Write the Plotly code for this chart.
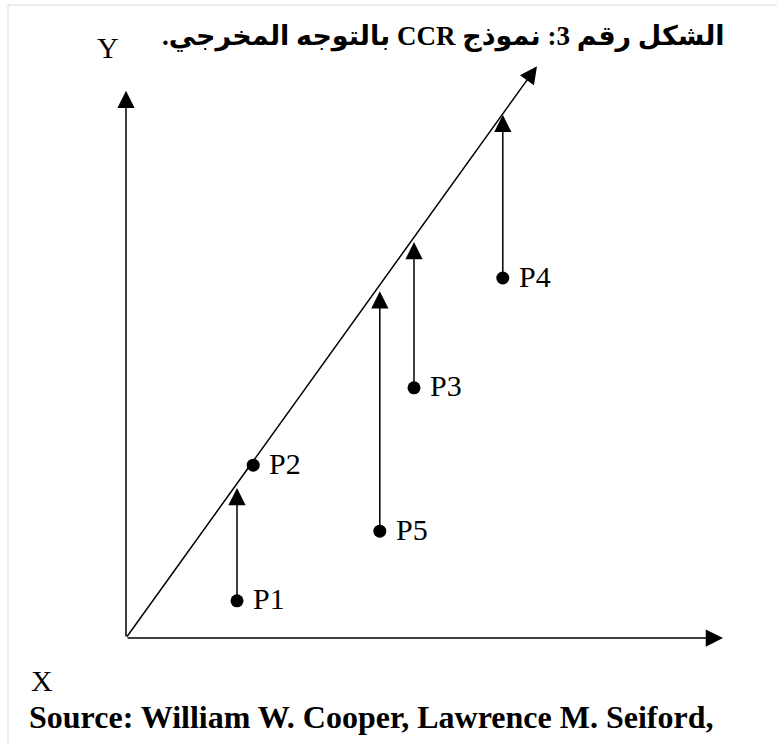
"""CCR output-oriented model sketch: DMUs projected vertically onto the frontier."""

import plotly.graph_objects as go

# ── Data (chart units, origin at the axes corner) ────────────────
dmu_labels = ["P1", "P2", "P3", "P4", "P5"]
dmu_x = [1.85, 2.12, 4.80, 6.28, 4.23]
dmu_y = [0.62, 2.88, 4.17, 6.00, 1.78]
# where each vertical projection arrow ends (P2 already on the frontier)
proj_y = [2.50, None, 6.60, 8.72, 5.78]

frontier_x = [0.0, 6.85]
frontier_y = [0.0, 9.53]
x_axis_end = 9.95
y_axis_end = 9.12

title_text = "الشكل رقم 3: نموذج CCR بالتوجه المخرجي."
source_text = "Source: William W. Cooper, Lawrence M. Seiford,"

# ── Page geometry (pixels) ───────────────────────────────────────
W, H = 777, 745
ORIGIN_PX = (126, 638)
PX_PER_UNIT = 60.0

SERIF = "Liberation Serif, Times New Roman, serif"
ARABIC = "Liberation Serif, DejaVu Sans, sans-serif"


def px(xp):
    return xp / W


def py(yp):
    return 1 - yp / H


def arrow(x, y, ax, ay, width=1.5):
    return dict(
        x=x, y=y, ax=ax, ay=ay, xref="x", yref="y", axref="x", ayref="y",
        text="", showarrow=True, arrowhead=2, arrowsize=2.3, arrowwidth=width,
        arrowcolor="black", standoff=0, startstandoff=0,
    )


fig = go.Figure()

fig.add_trace(go.Scatter(
    x=dmu_x, y=dmu_y, mode="markers",
    marker=dict(size=13, color="black"),
    hoverinfo="skip", showlegend=False,
))

annotations = [
    arrow(x_axis_end, 0, 0, 0),
    arrow(0, y_axis_end, 0, 0),
    arrow(frontier_x[1], frontier_y[1], frontier_x[0], frontier_y[0]),
]
for xv, yv, ty in zip(dmu_x, dmu_y, proj_y):
    if ty is None:
        continue
    annotations.append(arrow(xv, ty, xv, yv))

# point labels sit just right of each dot
for lab, xv, yv in zip(dmu_labels, dmu_x, dmu_y):
    annotations.append(dict(
        text=lab, x=xv, y=yv, xref="x", yref="y", showarrow=False,
        xanchor="left", yanchor="middle", xshift=14, yshift=2,
        font=dict(family=SERIF, size=30, color="black"),
    ))

text_style = dict(xref="paper", yref="paper", showarrow=False)
annotations += [
    dict(text="\u202b" + title_text + "\u202c", x=px(443), y=py(37),
         xanchor="center", yanchor="middle",
         font=dict(family=ARABIC, size=27, color="black", weight="bold"), **text_style),
    dict(text="Y", x=px(108), y=py(48), xanchor="center", yanchor="middle",
         font=dict(family=SERIF, size=30, color="black"), **text_style),
    dict(text="X", x=px(29), y=py(680), xanchor="left", yanchor="middle",
         font=dict(family=SERIF, size=30, color="black"), **text_style),
    dict(text=source_text, x=px(27), y=py(717), xanchor="left", yanchor="middle",
         font=dict(family=SERIF, size=32, color="black", weight="bold"), **text_style),
]

# faint frame left over from the scanned page
frame = [
    dict(type="line", xref="paper", yref="paper", x0=px(8), x1=1, y0=py(5), y1=py(5),
         line=dict(color="#ececec", width=2)),
    dict(type="line", xref="paper", yref="paper", x0=px(8), x1=px(8), y0=py(5), y1=0,
         line=dict(color="#ececec", width=2)),
]

ox, oy = ORIGIN_PX
fig.update_layout(
    width=W, height=H,
    margin=dict(l=0, r=0, t=0, b=0),
    paper_bgcolor="white", plot_bgcolor="white",
    xaxis=dict(range=[-ox / PX_PER_UNIT, (W - ox) / PX_PER_UNIT], visible=False, fixedrange=True),
    yaxis=dict(range=[-(H - oy) / PX_PER_UNIT, oy / PX_PER_UNIT], visible=False, fixedrange=True),
    annotations=annotations,
    shapes=frame,
    showlegend=False,
)

fig.write_html("out.html", config={"displayModeBar": False},
               post_script="document.body.style.margin='0';")
